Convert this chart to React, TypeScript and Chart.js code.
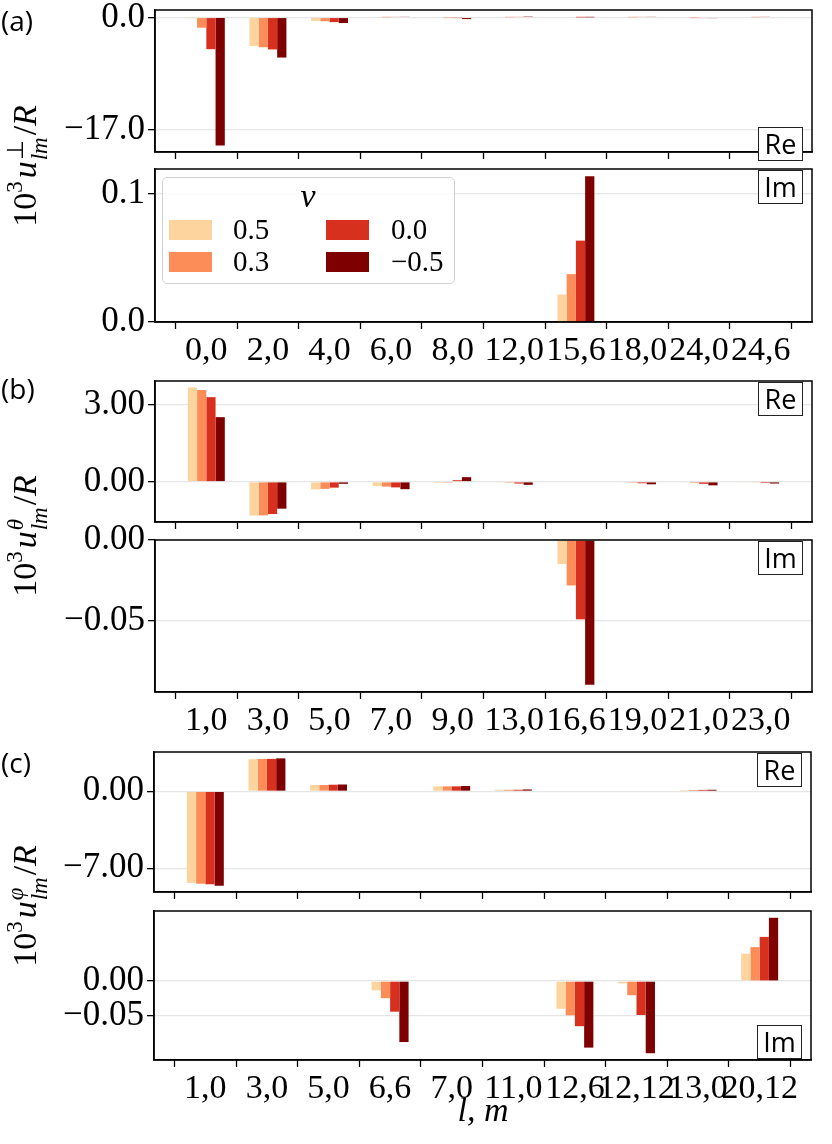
import React, { useEffect, useRef } from 'react';
import { Chart, registerables } from 'chart.js';

Chart.register(...registerables);

// ---------- data ----------
const NU_LABELS = ['0.5', '0.3', '0.0', '−0.5'];
const NU_COLORS = ['#fdd49e', '#fc8d59', '#d7301f', '#7f0000'];

const CATS_A = ['0,0', '2,0', '4,0', '6,0', '8,0', '12,0', '15,6', '18,0', '24,0', '24,6'];
const CATS_B = ['1,0', '3,0', '5,0', '7,0', '9,0', '13,0', '16,6', '19,0', '21,0', '23,0'];
const CATS_C = ['1,0', '3,0', '5,0', '6,6', '7,0', '11,0', '12,6', '12,12', '13,0', '20,12'];

// (a) u_perp, real part
const A_RE_05 = [-0.05, -4.34, -0.52, 0.0, 0.0, 0.0, 0.0, 0.0, 0.0, 0.0];
const A_RE_03 = [-1.56, -4.53, -0.57, 0.02, -0.02, 0.03, 0.0, 0.03, -0.02, 0.03];
const A_RE_00 = [-4.82, -4.86, -0.71, 0.08, -0.05, 0.08, 0.01, 0.08, -0.08, 0.07];
const A_RE_M05 = [-19.45, -6.09, -0.85, 0.12, -0.25, 0.15, 0.02, 0.12, -0.12, 0.1];
// (a) imaginary part
const A_IM_05 = [0, 0, 0, 0, 0, 0, 0.0215, 0, 0, 0];
const A_IM_03 = [0, 0, 0, 0, 0, 0, 0.0374, 0, 0, 0];
const A_IM_00 = [0, 0, 0, 0, 0, 0, 0.0636, 0, 0, 0];
const A_IM_M05 = [0, 0, 0, 0, 0, 0, 0.1139, 0, 0, 0];

// (b) u_theta, real part
const B_RE_05 = [3.68, -1.32, -0.3, -0.17, -0.05, -0.03, 0, -0.03, -0.03, -0.02];
const B_RE_03 = [3.58, -1.31, -0.28, -0.19, -0.01, -0.04, 0, -0.04, -0.05, -0.03];
const B_RE_00 = [3.3, -1.26, -0.23, -0.22, 0.06, -0.07, 0, -0.06, -0.08, -0.05];
const B_RE_M05 = [2.52, -1.05, -0.08, -0.29, 0.18, -0.12, 0, -0.1, -0.14, -0.07];
// (b) imaginary part
const B_IM_05 = [0, 0, 0, 0, 0, 0, -0.0149, 0, 0, 0];
const B_IM_03 = [0, 0, 0, 0, 0, 0, -0.0282, 0, 0, 0];
const B_IM_00 = [0, 0, 0, 0, 0, 0, -0.0492, 0, 0, 0];
const B_IM_M05 = [0, 0, 0, 0, 0, 0, -0.0898, 0, 0, 0];

// (c) u_phi, real part
const C_RE_05 = [-8.36, 2.92, 0.57, 0, 0.45, 0.14, 0, 0, 0.11, 0];
const C_RE_03 = [-8.42, 2.95, 0.57, 0, 0.45, 0.14, 0, 0, 0.12, 0];
const C_RE_00 = [-8.47, 2.95, 0.6, 0, 0.45, 0.14, 0, 0, 0.13, 0];
const C_RE_M05 = [-8.59, 3.0, 0.62, 0, 0.48, 0.17, 0, 0, 0.14, 0];
// (c) imaginary part
const C_IM_05 = [0, 0, 0, -0.0135, 0, 0, -0.0404, -0.0034, 0, 0.0399];
const C_IM_03 = [0, 0, 0, -0.025, 0, 0, -0.05, -0.0207, 0, 0.0495];
const C_IM_00 = [0, 0, 0, -0.0447, 0, 0, -0.0659, -0.0495, 0, 0.0644];
const C_IM_M05 = [0, 0, 0, -0.089, 0, 0, -0.0971, -0.1053, 0, 0.0923];

// y tick values per panel
const A_RE_TICKS = [0, -17];
const A_IM_TICKS = [0, 0.1];
const B_RE_TICKS = [3, 0];
const B_IM_TICKS = [0, -0.05];
const C_RE_TICKS = [0, -7];
const C_IM_TICKS = [0, -0.05];

// ---------- helpers ----------
const SERIF = 'Liberation Serif';
const SANS = 'Open Sans';
const TICK_SIZE = 34;

function fmt(v: number, d: number) {
  const s = Math.abs(v).toFixed(d);
  return (v < 0 && Math.abs(v) > 1e-12 ? '−' : '') + s;
}

// matplotlib-like autoscale for bars: 5% margins, sticky at 0
function autoRange(series: number[][]): [number, number] {
  const all = series.flat().concat([0]);
  const lo = Math.min(...all);
  const hi = Math.max(...all);
  const span = hi - lo;
  const min = lo < 0 ? lo - 0.05 * span : 0;
  const max = hi > 0 ? hi + 0.05 * span : 0;
  return [min, max];
}

const framePlugin = {
  id: 'frame',
  afterDraw(chart: any) {
    const { ctx, chartArea } = chart;
    ctx.save();
    ctx.strokeStyle = '#000';
    ctx.lineWidth = 1.5;
    ctx.strokeRect(chartArea.left, chartArea.top, chartArea.right - chartArea.left, chartArea.bottom - chartArea.top);
    ctx.restore();
  },
};

type PanelProps = {
  cats: string[];
  series: number[][];
  yTicks: number[];
  dec: number;
  showX: boolean;
  top: number;
  bottom: number;
  left: number;
  right: number;
};

function Panel({ cats, series, yTicks, dec, showX, top, bottom, left, right }: PanelProps) {
  const ref = useRef<HTMLCanvasElement>(null);
  const padTop = 26;
  const bottomExtra = showX ? 62 : 14;
  const height = bottom - top + padTop + bottomExtra;
  useEffect(() => {
    let alive = true;
    const [ymin, ymax] = autoRange(series);
    const font = { family: `"${SERIF}"`, size: TICK_SIZE };
    const chart = new Chart(ref.current as HTMLCanvasElement, {
      type: 'bar',
      data: {
        datasets: series.map((vals, k) => ({
          label: NU_LABELS[k],
          data: vals.map((v, i) => ({ x: i, y: v })),
          backgroundColor: NU_COLORS[k],
          borderWidth: 0,
          categoryPercentage: 0.6,
          barPercentage: 1.0,
        })),
      },
      options: {
        responsive: false,
        animation: false,
        layout: { padding: { left: 0, right: 832 - right, top: padTop, bottom: 0 } },
        plugins: { legend: { display: false }, tooltip: { enabled: false } },
        scales: {
          x: {
            type: 'linear',
            min: -0.3,
            max: 9.3,
            afterBuildTicks: (ax: any) => {
              ax.ticks = cats.map((_, i) => ({ value: i }));
            },
            afterFit: (ax: any) => {
              ax.height = bottomExtra;
            },
            ticks: {
              autoSkip: false,
              maxRotation: 0,
              minRotation: 0,
              padding: 2,
              color: '#000',
              font,
              callback: (v: any) => (showX ? cats[Math.round(Number(v))] : ''),
            },
            grid: { drawOnChartArea: false, drawTicks: true, tickLength: 7, tickColor: '#000', tickWidth: 1.3 },
            border: { display: true, color: '#000', width: 1.5 },
          },
          y: {
            type: 'linear',
            min: ymin,
            max: ymax,
            afterBuildTicks: (ax: any) => {
              ax.ticks = yTicks.map((v) => ({ value: v }));
            },
            afterFit: (ax: any) => {
              ax.width = left;
            },
            ticks: {
              padding: 3,
              color: '#000',
              font: { family: `"${SERIF}"`, size: 35 },
              callback: (v: any) => fmt(Number(v), dec),
            },
            grid: { color: '#e6e6e6', lineWidth: 1.3, drawTicks: true, tickLength: 7, tickColor: '#000', tickWidth: 1.3 },
            border: { display: true, color: '#000', width: 1.5 },
          },
        },
      } as any,
      plugins: [framePlugin],
    });
    if (document.fonts && document.fonts.load) {
      document.fonts.load(`${TICK_SIZE}px "${SERIF}"`).then(() => {
        if (alive) chart.update('none');
      });
    }
    return () => {
      alive = false;
      chart.destroy();
    };
  }, []);
  return (
    <canvas
      ref={ref}
      width={832}
      height={height}
      style={{ position: 'absolute', left: 0, top: top - padTop, width: 832, height }}
    />
  );
}

function TagBox({ text, x, y }: { text: string; x: number; y: number }) {
  return (
    <div
      style={{
        position: 'absolute',
        left: x,
        top: y,
        width: 45,
        height: 34,
        boxSizing: 'border-box',
        border: '1.3px solid #222',
        background: '#fff',
        fontFamily: SANS,
        fontSize: 27,
        lineHeight: '32px',
        textAlign: 'center',
        color: '#000',
      }}
    >
      {text}
    </div>
  );
}

function YLabel({ sup, cy }: { sup: React.ReactNode; cy: number }) {
  return (
    <div
      style={{
        position: 'absolute',
        left: 27,
        top: cy,
        transform: 'translate(-50%, -50%) rotate(-90deg)',
        whiteSpace: 'nowrap',
        fontFamily: SERIF,
        fontSize: TICK_SIZE,
        lineHeight: '40px',
        color: '#000',
      }}
    >
      <span>10</span>
      <span style={{ fontSize: 23, position: 'relative', top: -14 }}>3</span>
      <span style={{ fontStyle: 'italic', marginLeft: 3 }}>u</span>
      <span style={{ display: 'inline-block', position: 'relative', width: 24, height: 10 }}>
        <span style={{ position: 'absolute', left: 1, top: -22, fontSize: 23, lineHeight: '23px' }}>{sup}</span>
        <span style={{ position: 'absolute', left: 1, top: 2, fontSize: 23, lineHeight: '23px', fontStyle: 'italic' }}>lm</span>
      </span>
      <span style={{ marginLeft: 2 }}>/</span>
      <span style={{ fontStyle: 'italic' }}>R</span>
    </div>
  );
}

function PanelTag({ text, cy }: { text: string; cy: number }) {
  return (
    <div style={{ position: 'absolute', left: 1, top: cy - 17, fontFamily: SANS, fontSize: 28, lineHeight: '34px', color: '#000' }}>
      {text}
    </div>
  );
}

function Legend() {
  const rows = [
    { k: 0, sx: 169, tx: 233, cy: 230 },
    { k: 1, sx: 169, tx: 233, cy: 262 },
    { k: 2, sx: 326, tx: 391, cy: 230 },
    { k: 3, sx: 326, tx: 391, cy: 262 },
  ];
  return (
    <>
      <div
        style={{
          position: 'absolute',
          left: 162,
          top: 177,
          width: 293,
          height: 107,
          boxSizing: 'border-box',
          border: '1.3px solid #d0d0d0',
          borderRadius: 5,
          background: 'rgba(255,255,255,0.8)',
        }}
      />
      <div
        style={{
          position: 'absolute',
          left: 308,
          top: 196,
          transform: 'translate(-50%, -50%)',
          fontFamily: SERIF,
          fontStyle: 'italic',
          fontSize: 34,
          lineHeight: 1,
        }}
      >
        ν
      </div>
      {rows.map((r) => (
        <React.Fragment key={r.k}>
          <div style={{ position: 'absolute', left: r.sx, top: r.cy - 10, width: 43, height: 20, background: NU_COLORS[r.k] }} />
          <div
            style={{
              position: 'absolute',
              left: r.tx,
              top: r.cy - 15,
              fontFamily: SERIF,
              fontSize: 29,
              lineHeight: '29px',
              color: '#000',
            }}
          >
            {NU_LABELS[r.k]}
          </div>
        </React.Fragment>
      ))}
    </>
  );
}

export default function App() {
  return (
    <div style={{ position: 'absolute', left: 0, top: 0, width: 832, height: 1144, background: '#fff', overflow: 'hidden' }}>
      <Panel cats={CATS_A} series={[A_RE_05, A_RE_03, A_RE_00, A_RE_M05]} yTicks={A_RE_TICKS} dec={1} showX={false} top={10} bottom={162} left={155} right={812} />
      <Panel cats={CATS_A} series={[A_IM_05, A_IM_03, A_IM_00, A_IM_M05]} yTicks={A_IM_TICKS} dec={1} showX={true} top={169} bottom={322} left={155} right={812} />
      <Panel cats={CATS_B} series={[B_RE_05, B_RE_03, B_RE_00, B_RE_M05]} yTicks={B_RE_TICKS} dec={2} showX={false} top={381} bottom={532} left={155} right={812} />
      <Panel cats={CATS_B} series={[B_IM_05, B_IM_03, B_IM_00, B_IM_M05]} yTicks={B_IM_TICKS} dec={2} showX={true} top={540} bottom={692} left={155} right={812} />
      <Panel cats={CATS_C} series={[C_RE_05, C_RE_03, C_RE_00, C_RE_M05]} yTicks={C_RE_TICKS} dec={2} showX={false} top={752} bottom={902} left={154} right={811} />
      <Panel cats={CATS_C} series={[C_IM_05, C_IM_03, C_IM_00, C_IM_M05]} yTicks={C_IM_TICKS} dec={2} showX={true} top={911} bottom={1060} left={154} right={811} />

      <TagBox text="Re" x={758} y={127} />
      <TagBox text="Im" x={758} y={170} />
      <TagBox text="Re" x={758} y={382} />
      <TagBox text="Im" x={758} y={541} />
      <TagBox text="Re" x={757} y={753} />
      <TagBox text="Im" x={757} y={1025} />

      <Legend />

      <YLabel sup="⊥" cy={166} />
      <YLabel sup={<i>θ</i>} cy={536} />
      <YLabel sup={<i>φ</i>} cy={906} />

      <PanelTag text="(a)" cy={20} />
      <PanelTag text="(b)" cy={388} />
      <PanelTag text="(c)" cy={762} />

      <div
        style={{
          position: 'absolute',
          left: 483,
          top: 1110,
          transform: 'translate(-50%, -50%)',
          fontFamily: SERIF,
          fontStyle: 'italic',
          fontSize: TICK_SIZE,
          lineHeight: 1,
          whiteSpace: 'nowrap',
        }}
      >
        l, m
      </div>
    </div>
  );
}
